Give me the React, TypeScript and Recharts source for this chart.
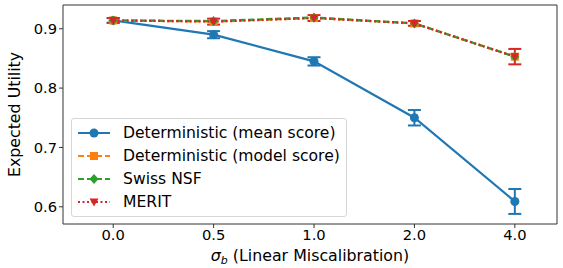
import { ErrorBar, Line, LineChart, ReferenceLine, XAxis, YAxis } from "recharts"

const TICK_LABELS = ["0.0", "0.5", "1.0", "2.0", "4.0"]
const MEAN_SCORE = [0.914, 0.89, 0.845, 0.75, 0.609]
const MEAN_ERR = [0.004, 0.006, 0.007, 0.013, 0.021]
const MODEL_SCORE = [0.914, 0.912, 0.918, 0.909, 0.853]
const SWISS_NSF = [0.914, 0.913, 0.919, 0.909, 0.853]
const MERIT = [0.914, 0.912, 0.918, 0.909, 0.853]
const MERIT_ERR = [0.004, 0.005, 0.005, 0.004, 0.013]

const BLUE = "#1f77b4"
const ORANGE = "#ff7f0e"
const GREEN = "#2ca02c"
const RED = "#d62728"
const FONT = "DejaVu Sans, sans-serif"
const AXIS = "#333"

const data = TICK_LABELS.map((_, i) => ({
  x: i,
  mean: MEAN_SCORE[i],
  meanErr: MEAN_ERR[i],
  model: MODEL_SCORE[i],
  swiss: SWISS_NSF[i],
  merit: MERIT[i],
  meritErr: MERIT_ERR[i],
}))

type DotProps = { cx?: number; cy?: number; index?: number }

function marker(kind: string, color: string, cx: number, cy: number, key?: number) {
  if (kind === "circle") return <circle key={key} cx={cx} cy={cy} r={4.5} fill={color} />
  if (kind === "square")
    return <rect key={key} x={cx - 4} y={cy - 4} width={8} height={8} fill={color} />
  if (kind === "diamond")
    return (
      <polygon
        key={key}
        points={`${cx},${cy - 5} ${cx + 4.5},${cy} ${cx},${cy + 5} ${cx - 4.5},${cy}`}
        fill={color}
      />
    )
  return (
    <polygon
      key={key}
      points={`${cx - 4.5},${cy - 3.5} ${cx + 4.5},${cy - 3.5} ${cx},${cy + 4.5}`}
      fill={color}
    />
  )
}

const dotFor = (kind: string, color: string) => (p: DotProps) =>
  marker(kind, color, p.cx ?? 0, p.cy ?? 0, p.index)

const LEGEND_ITEMS = [
  { label: "Deterministic (mean score)", color: BLUE, kind: "circle", dash: undefined },
  { label: "Deterministic (model score)", color: ORANGE, kind: "square", dash: "6 3" },
  { label: "Swiss NSF", color: GREEN, kind: "diamond", dash: "6 3" },
  { label: "MERIT", color: RED, kind: "triangle", dash: "2 2.5" },
]

function LegendBox() {
  return (
    <div
      style={{
        position: "absolute",
        left: 71,
        top: 118,
        width: 265,
        background: "rgba(255,255,255,0.8)",
        border: "1px solid #d6d6d6",
        borderRadius: 3,
        padding: "2px 4px 3px 5px",
        fontFamily: FONT,
        fontSize: 15.6,
        color: "#000",
        whiteSpace: "nowrap",
      }}
    >
      {LEGEND_ITEMS.map((it) => (
        <div key={it.label} style={{ display: "flex", alignItems: "center", height: 23 }}>
          <svg width={34} height={14} style={{ marginRight: 12 }}>
            <line
              x1={1}
              y1={7}
              x2={33}
              y2={7}
              stroke={it.color}
              strokeWidth={2}
              strokeDasharray={it.dash}
            />
            {marker(it.kind, it.color, 17, 7)}
          </svg>
          <span>{it.label}</span>
        </div>
      ))}
    </div>
  )
}

function XLabel(props: { viewBox?: { x: number; y: number; width: number } }) {
  const vb = props.viewBox ?? { x: 0, y: 0, width: 0 }
  return (
    <text
      x={vb.x + vb.width / 2}
      y={vb.y + 37}
      textAnchor="middle"
      fontFamily={FONT}
      fontSize={15.8}
      fill="#000"
    >
      <tspan fontStyle="italic">σ</tspan>
      <tspan fontStyle="italic" fontSize={11} dy={3}>b</tspan>
      <tspan dy={-3}> (Linear Miscalibration)</tspan>
    </text>
  )
}

export default function App() {
  return (
    <div style={{ position: "fixed", left: 0, top: 0, background: "#fff" }}>
      <LineChart
        width={563}
        height={268}
        data={data}
        margin={{ top: 5, right: 6, bottom: 0, left: 0 }}
      >
        <XAxis
          dataKey="x"
          type="number"
          domain={[-0.5, 4.42]}
          ticks={[0, 1, 2, 3, 4]}
          tickFormatter={(v: number) => TICK_LABELS[v] ?? ""}
          allowDataOverflow
          height={44}
          tickSize={4}
          tickLine={{ stroke: AXIS }}
          axisLine={{ stroke: AXIS }}
          tick={{ fontSize: 14.7, fontFamily: FONT, fill: "#000" }}
          label={<XLabel />}
        />
        <YAxis
          domain={[0.571, 0.94]}
          ticks={[0.6, 0.7, 0.8, 0.9]}
          allowDataOverflow
          width={63}
          tickSize={4}
          tickLine={{ stroke: AXIS }}
          axisLine={{ stroke: AXIS }}
          tickFormatter={(v: number) => v.toFixed(1)}
          tick={{ fontSize: 14.7, fontFamily: FONT, fill: "#000" }}
          label={{
            value: "Expected Utility",
            angle: -90,
            position: "insideLeft",
            offset: 14,
            style: { fontFamily: FONT, fontSize: 15.8, fill: "#000", textAnchor: "middle" },
          }}
        />
        <ReferenceLine y={0.94} stroke={AXIS} ifOverflow="extendDomain" />
        <ReferenceLine x={4.42} stroke={AXIS} ifOverflow="extendDomain" />
        <Line
          dataKey="mean"
          stroke={BLUE}
          strokeWidth={2.2}
          dot={dotFor("circle", BLUE)}
          activeDot={false}
          isAnimationActive={false}
        >
          <ErrorBar dataKey="meanErr" width={6.5} stroke={BLUE} strokeWidth={2} />
        </Line>
        <Line
          dataKey="model"
          stroke={ORANGE}
          strokeWidth={2.2}
          strokeDasharray="6 3"
          dot={dotFor("square", ORANGE)}
          activeDot={false}
          isAnimationActive={false}
        />
        <Line
          dataKey="swiss"
          stroke={GREEN}
          strokeWidth={2.2}
          strokeDasharray="6 3"
          dot={dotFor("diamond", GREEN)}
          activeDot={false}
          isAnimationActive={false}
        />
        <Line
          dataKey="merit"
          stroke={RED}
          strokeWidth={2.2}
          strokeDasharray="2 2.5"
          dot={dotFor("triangle", RED)}
          activeDot={false}
          isAnimationActive={false}
        >
          <ErrorBar dataKey="meritErr" width={6.5} stroke={RED} strokeWidth={2} />
        </Line>
      </LineChart>
      <LegendBox />
    </div>
  )
}
